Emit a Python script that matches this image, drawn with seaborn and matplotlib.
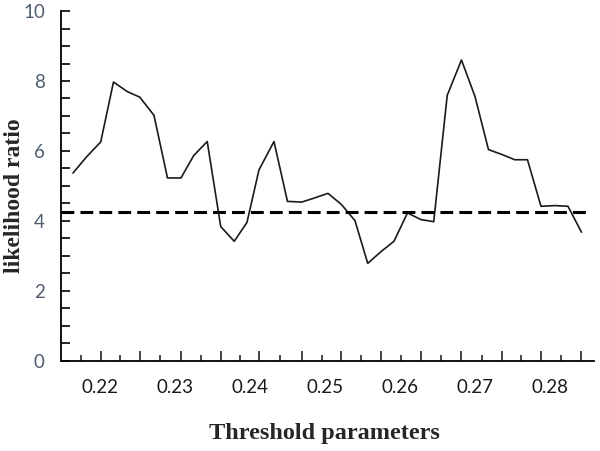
import numpy as np
import pandas as pd
import matplotlib
matplotlib.use("Agg")
import matplotlib.pyplot as plt
import seaborn as sns

threshold = [0.2164, 0.2182, 0.2201, 0.2218, 0.2237, 0.2253, 0.2272, 0.2290,
             0.2308, 0.2325, 0.2343, 0.2361, 0.2379, 0.2396, 0.2412, 0.2432,
             0.2450, 0.2469, 0.2485, 0.2504, 0.2522, 0.2540, 0.2557, 0.2575,
             0.2592, 0.2610, 0.2628, 0.2645, 0.2663, 0.2682, 0.2700, 0.2718,
             0.2736, 0.2753, 0.2770, 0.2788, 0.2807, 0.2824, 0.2842]
ratio = [5.37, 5.83, 6.26, 7.97, 7.69, 7.54, 7.02, 5.23,
         5.23, 5.87, 6.27, 3.84, 3.42, 3.96, 5.46, 6.27,
         4.56, 4.54, 4.65, 4.79, 4.47, 4.01, 2.79, 3.13,
         3.42, 4.23, 4.04, 3.98, 7.59, 8.60, 7.56, 6.04,
         5.90, 5.75, 5.75, 4.42, 4.44, 4.42, 3.68]
critical = 4.25
xtick_labels = ["0.22", "0.23", "0.24", "0.25", "0.26", "0.27", "0.28"]

df = pd.DataFrame({"threshold": threshold, "ratio": ratio})

sns.set_style("ticks")
plt.rcParams["font.family"] = ["Lato", "DejaVu Sans"]

fig = plt.figure(figsize=(6, 4.51), dpi=100)
ax = fig.add_axes([0.1025, 0.1996, 0.8875, 0.776])

sns.lineplot(data=df, x="threshold", y="ratio", ax=ax, color="#1a1a1a",
             linewidth=1.2)
ax.axhline(critical, xmin=0, xmax=0.9925, color="black", linewidth=2.2,
           dashes=(4.2, 2.0))

ax.set_xlim(0.21487, 0.28587)
ax.set_ylim(0, 10)

# y axis
ax.set_yticks(np.arange(0, 10.1, 2))
ax.set_yticks(np.arange(0, 10.1, 0.5), minor=True)
ax.tick_params(axis="y", which="both", direction="in", length=6.5, width=1.2,
               color="black", pad=12, labelsize=13.5, labelcolor="#4f5d70")

# x axis tick marks (no labels), derived from the data positions
tx = np.array(threshold)
major_x = tx[2::3]
step = major_x[1] - major_x[0]
minor_x = np.concatenate([[major_x[0] - step / 2], (major_x[:-1] + major_x[1:]) / 2])
ax.set_xticks(major_x, labels=[""] * len(major_x))
ax.set_xticks(minor_x, minor=True)
ax.tick_params(axis="x", which="major", direction="in", length=7, width=1.2)
ax.tick_params(axis="x", which="minor", direction="in", length=4.5, width=1.2)

# x tick labels on a secondary axis
sec = ax.secondary_xaxis("bottom")
sec.set_xticks([float(s) for s in xtick_labels], labels=xtick_labels)
sec.tick_params(length=0, pad=13, labelsize=13.5, labelcolor="#1a1a1a")
sec.spines["bottom"].set_visible(False)

for s in ["top", "right"]:
    ax.spines[s].set_visible(False)
for s in ["left", "bottom"]:
    ax.spines[s].set_linewidth(1.3)
    ax.spines[s].set_color("black")

ax.set_xlabel("")
ax.set_ylabel("")
fig.text(0.54, 0.038, "Threshold parameters", ha="center", va="center",
         fontsize=17.5, fontweight="bold", family=["Liberation Serif"])
fig.text(0.024, 0.567, "likelihood ratio", ha="center", va="center",
         rotation=90, fontsize=17, fontweight="bold",
         family=["Liberation Serif"])

fig.savefig("out.png", dpi=100)
